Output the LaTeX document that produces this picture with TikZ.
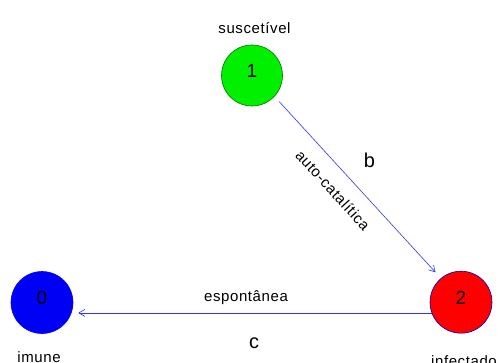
\documentclass[tikz,border=0pt]{standalone}
\usepackage{fontspec}
\setmainfont[LetterSpace=4]{Liberation Sans}
\usetikzlibrary{arrows.meta}
\definecolor{arrblue}{RGB}{50,50,255}
\begin{document}
\begin{tikzpicture}[x=1pt,y=-1pt,
  state/.style={circle, draw, line width=0.6pt, minimum size=62pt, inner sep=0pt,
     font=\fontsize{19}{22}\selectfont, text height=13.6pt, text depth=10pt},
  lbl/.style={anchor=base, inner sep=0pt, font=\fontsize{15}{18}\selectfont},
  big/.style={anchor=base, inner sep=0pt, font=\fontsize{20}{24}\selectfont},
  arr/.style={draw=arrblue, line width=0.6pt, -{Straight Barb[length=6pt,width=7pt]}}]
\useasboundingbox (0,0) rectangle (500,363);
\node[state, fill={rgb,255:red,0;green,240;blue,0}, draw=green!45!black, minimum size=61pt] (n1) at (252,75.5) {1};
\node[state, fill=red, draw=blue!70!black] (n2) at (461,302.2) {2};
\node[state, fill={rgb,255:red,0;green,0;blue,245}, draw=blue] (n0) at (42,302.5) {0};
\node[lbl] (l1) at (254.5,34) {suscetível};
\node[lbl] (l0) at (39,362) {imune};
\node[lbl] (l2) at (464,366) {infectado};
\draw[arr, shorten <=7pt, shorten >=8pt] (n1.-43) -- (n2.130);
\draw[arr, shorten >=5pt] (n2.200) -- (n2.200 -| n0.east);
\node[inner sep=0pt, rotate=-47.6, font=\fontsize{15}{18}\selectfont] (ac) at (333,190) {auto-catalítica};
\node[big] (b) at (369.5,167.7) {b};
\node[lbl] (es) at (246,301) {espontânea};
\node[big] (c) at (254,348.7) {c};
\end{tikzpicture}
\end{document}
